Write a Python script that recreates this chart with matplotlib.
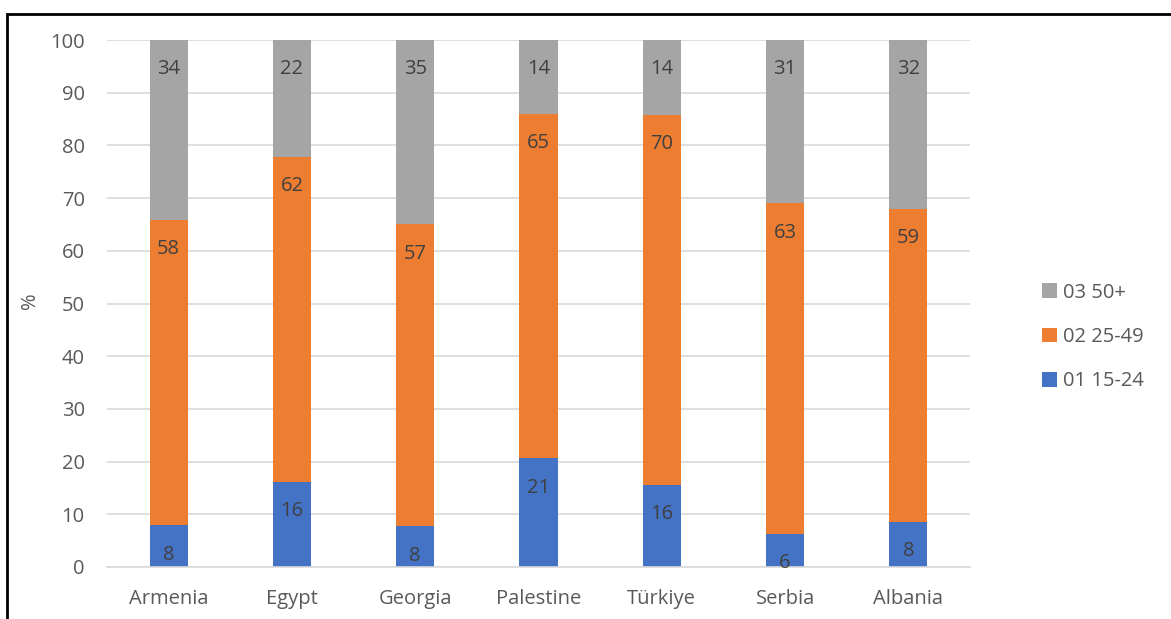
import numpy as np
import matplotlib.pyplot as plt
from matplotlib.patches import Rectangle

# age-group shares (%) by country
countries = ["Armenia", "Egypt", "Georgia", "Palestine", "Türkiye", "Serbia", "Albania"]
age_15_24 = [7.9, 16.2, 7.7, 20.6, 15.6, 6.3, 8.5]
age_25_49 = [57.9, 61.6, 57.3, 65.4, 70.2, 62.7, 59.4]
age_50_plus = [34.2, 22.2, 35.0, 14.0, 14.2, 31.0, 32.1]
series_names = ["01 15-24", "02 25-49", "03 50+"]
colors = ["#4472C4", "#ED7D31", "#A5A5A5"]

plt.rcParams["font.family"] = ["Open Sans", "DejaVu Sans"]
txt = "#595959"
fs = 14.5

fig = plt.figure(figsize=(11.71, 6.19), dpi=100)
ax = fig.add_axes([107 / 1171, 1 - 567 / 619, 863 / 1171, 527 / 619])

x = np.arange(len(countries))
bottom = np.zeros(len(countries))
handles = []
for vals, name, c in zip([age_15_24, age_25_49, age_50_plus], series_names, colors):
    vals = np.array(vals)
    bars = ax.bar(x, vals, 0.31, bottom=bottom, color=c, label=name, zorder=2)
    handles.append(bars)
    for xi, b, v in zip(x, bottom, vals):
        ax.annotate("%d" % round(v), (xi, b + v), xytext=(0, -21),
                    textcoords="offset points", ha="center", va="center",
                    fontsize=fs, color="#404040", zorder=3)
    bottom += vals

ax.set_xlim(-0.5, len(countries) - 0.5)
ax.set_ylim(0, 100)
ax.set_yticks(range(0, 101, 10))
ax.set_xticks(x)
ax.set_xticklabels(countries)
ax.grid(axis="y", color="#D9D9D9", linewidth=1.2, zorder=0)
for s in ["top", "right", "left"]:
    ax.spines[s].set_visible(False)
ax.spines["bottom"].set_color("#D9D9D9")
ax.spines["bottom"].set_linewidth(1.2)
ax.tick_params(axis="both", length=0, labelsize=fs, colors=txt)
ax.tick_params(axis="y", pad=16)
ax.tick_params(axis="x", pad=16)
ax.set_ylabel("%", fontsize=fs, color=txt, va="center")
ax.yaxis.set_label_coords(-0.089, 0.505)

leg = fig.legend(handles[::-1], series_names[::-1], loc="center left",
                 bbox_to_anchor=(1024 / 1171, 1 - 337 / 619), frameon=False,
                 fontsize=fs, handlelength=0.75, handleheight=0.75,
                 handletextpad=0.3, labelspacing=1.2)
for t in leg.get_texts():
    t.set_color(txt)

# outer frame
fig.patches.append(Rectangle((7 / 1171, -0.1), 1.2, 1.1 - 14 / 619,
                             transform=fig.transFigure, fill=False,
                             edgecolor="black", linewidth=2))

fig.savefig("out.png", dpi=100)
